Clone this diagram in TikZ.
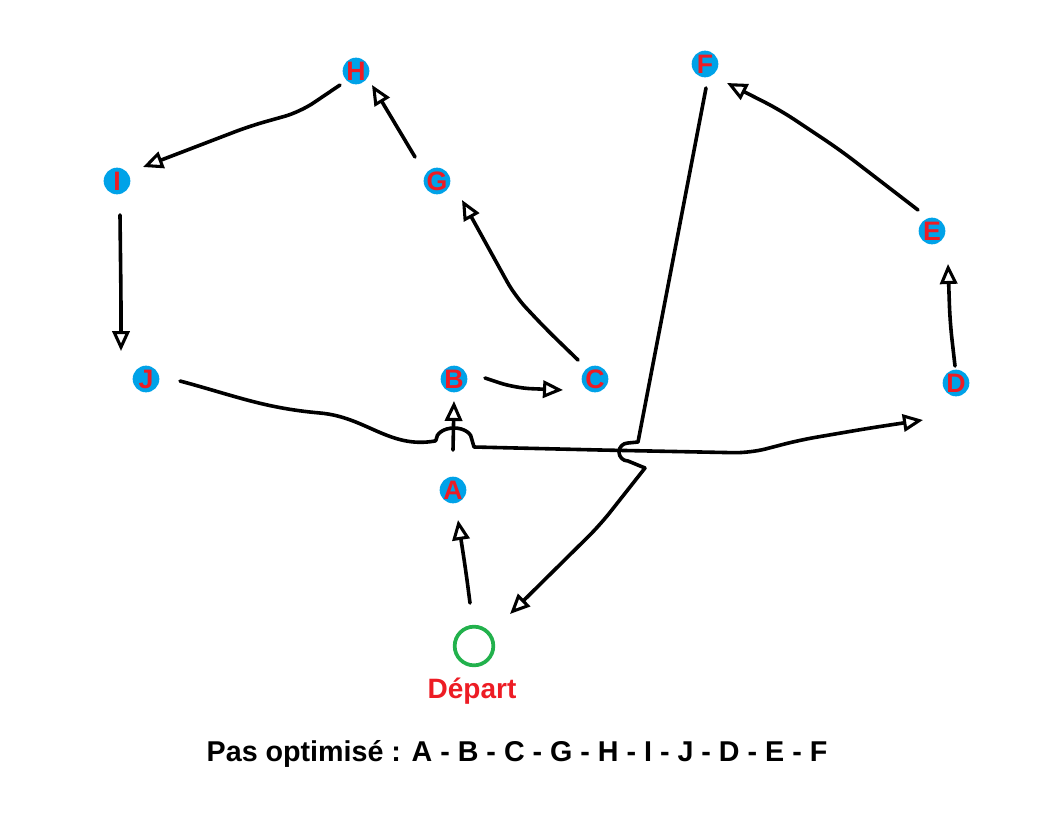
\documentclass[tikz,border=0pt]{standalone}
\usepackage{fontspec}
\setmainfont{Liberation Sans}
\usetikzlibrary{arrows.meta,calc}
\definecolor{pblue}{HTML}{00A2E8}
\definecolor{pred}{HTML}{ED1C24}
\definecolor{pgreen}{HTML}{22B14C}
\tikzset{
  lbl/.style={text=pred, font=\fontsize{20}{20}\selectfont\bfseries, inner sep=0pt},
  city/.style={circle, fill=pblue, minimum size=20pt, inner sep=0pt, label={[lbl]center:#1}},
  conn/.style={line width=2.7pt, line cap=round, line join=round, rounded corners=12pt,
    -{Triangle[open, length=15pt, width=13pt, line width=2.3pt]}},
  plain/.style={line width=2.7pt, line cap=round, line join=round},
}
\begin{document}
\begin{tikzpicture}[x=0.75pt, y=-0.75pt]
\useasboundingbox (0,0) rectangle (1059,814);
% nodes
\node[city=H] (H) at (356,71) {};
\node[city=F] (F) at (705,64) {};
\node[city=I] (I) at (117,181) {};
\node[city=G] (G) at (437,181) {};
\node[city=E] (E) at (932,231) {};
\node[city=J] (J) at (146,379) {};
\node[city=B] (B) at (454,379) {};
\node[city=C] (C) at (595,379) {};
\node[city=D] (D) at (956,383) {};
\node[city=A] (A) at (453,490) {};
\node[circle, draw=pgreen, line width=2.8pt, minimum size=29pt, inner sep=0pt] (S) at (474,646) {};
\node[lbl, font=\fontsize{21}{21}\selectfont\bfseries] (dep) at (472,691) {Départ};
\node[font=\fontsize{21.5}{22}\selectfont\bfseries, inner sep=0pt] (txt) at (517,754)
  {Pas optimisé : A - B - C - G - H - I - J - D - E - F};
% connectors
\draw[conn] ($(S)+(-4,-43)$) -- (466,572) -- ($(A)+(5,30)$);
\draw[conn] ($(A)+(0,-40)$) -- ($(B)+(0,22)$);
\draw[conn] ($(B)+(31,-1)$) -- (515,388) -- ($(C)+(-32,11)$);
\draw[conn] ($(C)+(-17,-19)$) -- (545,328) -- (515,296) -- ($(G)+(25,19)$);
\draw[conn] ($(G)+(-22,-24)$) -- ($(H)+(16,14)$);
\draw[conn] ($(H)+(-16,14)$) -- (300,112) -- (250,126) -- ($(I)+(26,-14)$);
\draw[conn] ($(I)+(3,34)$) -- (121,300) -- ($(J)+(-25,-28)$);
\draw[plain] ($(J)+(34,2)$) to[out=-15, in=175] (320,413) to[out=-5,in=190] (435,441)
  -- (436,440) arc[start angle=180, end angle=360, x radius=18, y radius=12] -- (474,447)
  -- (600,450) coordinate (x1);
\draw[conn] (x1) -- (750,453) -- (800,440) -- (870,428) -- ($(D)+(-33,37)$);
\draw[plain] ($(F)+(1,24)$) -- (638,442)
  -- (628,443) arc[start angle=270, end angle=90, radius=9] -- (645,468) coordinate (x2);
\draw[conn] (x2) -- (600,525) -- ($(S)+(36,-32)$);
\draw[conn] ($(D)+(-1,-17)$) -- (950,322) -- ($(E)+(16,33)$);
\draw[conn] ($(E)+(-14,-21)$) -- (840,150) -- (780,110) -- ($(F)+(22,19)$);
\end{tikzpicture}
\end{document}
